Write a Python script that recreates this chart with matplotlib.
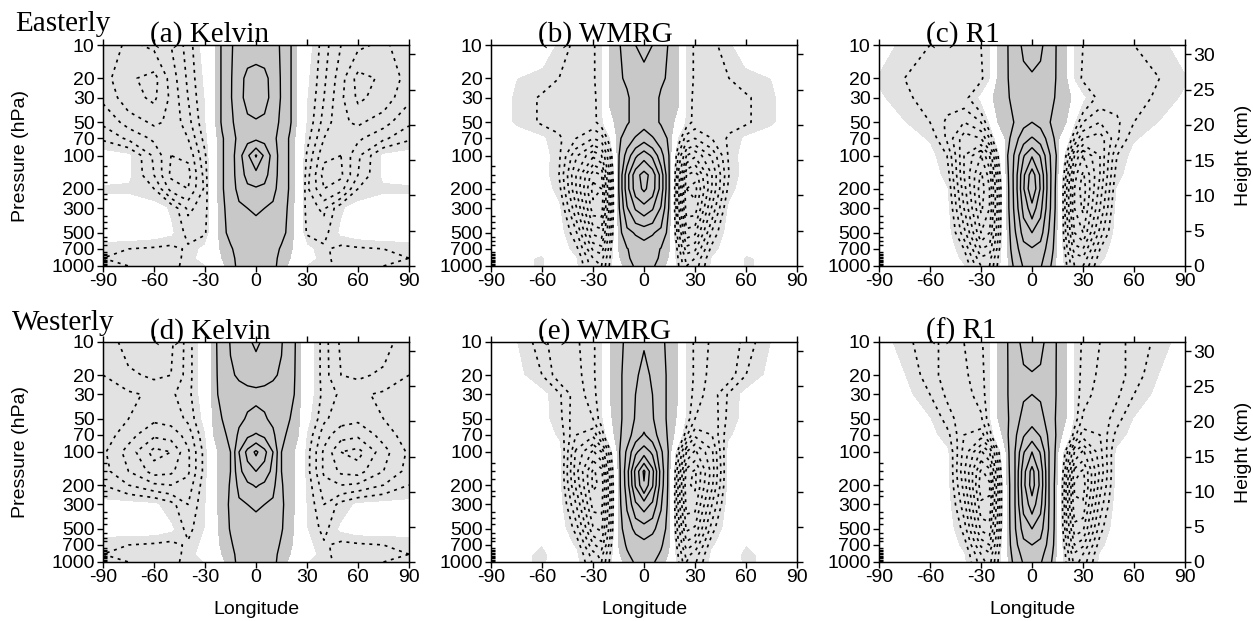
import numpy as np
import matplotlib
matplotlib.use("Agg")
import matplotlib.pyplot as plt
from matplotlib.ticker import FixedLocator, NullLocator, NullFormatter

# ---------------- data ----------------
# latitude grid (0..90, mirrored to the southern half) and pressure levels (hPa)
lat_half = [0, 5, 10, 15, 20, 25, 30, 40, 50, 60, 75, 90]
plev = [10, 20, 30, 50, 70, 100, 150, 200, 300, 500, 700, 850, 1000]

# rows follow plev (top -> bottom), columns follow lat_half
kelvin_easterly = [
    [2.6, 2.5, 2.3, 1.9, 1.1, 0.3, -0.2, -1.3, -2.0, -2.4, -2.6, -2.2],
    [3.4, 3.3, 2.6, 1.9, 1.1, 0.3, -0.4, -1.4, -2.3, -3.2, -2.9, -2.3],
    [3.5, 3.3, 2.7, 1.9, 1.1, 0.3, -0.5, -1.5, -2.4, -3.1, -2.8, -2.1],
    [2.9, 2.8, 2.4, 1.8, 1.1, 0.3, -0.6, -1.7, -2.4, -2.6, -2.2, -1.6],
    [2.8, 2.7, 2.3, 1.5, 0.9, 0.2, -0.8, -2.0, -2.4, -2.1, -1.6, -1.1],
    [5.1, 3.8, 2.6, 1.5, 0.9, 0.2, -1.1, -2.4, -2.5, -1.6, -0.4, -0.2],
    [3.6, 3.3, 2.5, 1.5, 0.9, 0.2, -1.3, -2.7, -2.6, -1.5, -0.4, -0.3],
    [2.9, 2.8, 2.3, 1.5, 0.9, 0.2, -1.4, -2.5, -2.2, -1.0, -0.6, -0.6],
    [2.1, 2.0, 1.8, 1.4, 0.8, 0.1, -1.3, -1.6, -0.6, -0.2, -0.2, -0.2],
    [1.7, 1.6, 1.5, 1.2, 0.8, 0.1, -1.1, -1.2, -0.4, -0.2, -0.1, -0.1],
    [1.5, 1.5, 1.3, 0.9, 0.6, 0.2, -0.3, -0.9, -1.2, -1.1, -1.0, -0.9],
    [1.6, 1.5, 1.2, 0.8, 0.5, 0.2, -0.2, -0.8, -1.3, -1.2, -1.1, -1.0],
    [1.6, 1.5, 1.2, 0.7, 0.4, 0.2, -0.6, -0.9, -1.1, -1.0, -1.0, -0.9],
]

wmrg_easterly = [
    [2.3, 2.0, 1.4, 0.9, 0.6, -0.6, -1.1, -1.2, -0.6, -0.2, -0.1, -0.1],
    [1.6, 1.5, 1.1, 0.9, 0.6, -0.6, -1.1, -1.3, -1.0, -0.7, -0.5, -0.1],
    [1.5, 1.3, 0.9, 0.8, 0.6, -0.6, -1.2, -1.4, -1.3, -1.1, -0.6, -0.1],
    [1.6, 1.3, 0.9, 0.7, 0.3, -0.7, -1.2, -1.4, -1.2, -1.1, -0.6, -0.1],
    [2.6, 2.1, 1.5, 0.8, -0.6, -1.8, -2.0, -1.5, -0.9, -0.4, -0.2, -0.1],
    [4.6, 3.8, 2.4, 0.9, -1.5, -3.0, -3.4, -2.4, -0.9, -0.2, -0.1, -0.1],
    [6.4, 5.6, 3.6, 0.9, -2.0, -4.5, -4.8, -3.0, -1.0, -0.2, -0.1, -0.1],
    [6.2, 5.5, 3.6, 0.9, -2.2, -5.0, -5.2, -3.0, -0.8, -0.1, -0.1, -0.1],
    [4.6, 4.1, 2.9, 0.8, -2.2, -4.8, -4.8, -2.4, -0.4, -0.1, -0.1, -0.1],
    [2.3, 2.1, 1.7, 0.6, -1.8, -3.8, -3.6, -1.4, -0.2, -0.1, -0.1, -0.2],
    [1.6, 1.35, 0.95, 0.5, -1.2, -2.8, -2.6, -0.8, -0.1, -0.3, -0.3, -0.1],
    [1.4, 1.2, 0.9, 0.4, -1.0, -2.2, -2.0, -0.5, 0.0, -0.6, -0.3, 0.0],
    [1.3, 1.1, 0.7, 0.3, -0.9, -2.0, -1.8, -0.4, 0.0, -0.6, -0.3, 0.0],
]

r1_easterly = [
    [2.6, 2.2, 1.5, 0.9, 0.6, -0.6, -1.0, -1.2, -1.1, -1.0, -0.7, -0.2],
    [1.8, 1.7, 1.4, 0.9, 0.6, -0.6, -1.1, -1.3, -1.3, -1.2, -1.0, -0.6],
    [1.6, 1.5, 1.2, 0.9, 0.9, 0.2, -0.4, -1.2, -1.3, -1.2, -0.9, -0.4],
    [2.0, 1.7, 1.05, 0.7, 0.5, -0.5, -1.5, -2.0, -1.6, -1.0, -0.5, -0.2],
    [3.1, 2.6, 1.6, 0.6, 0.0, -1.5, -2.5, -2.8, -1.6, -0.6, -0.2, -0.1],
    [4.9, 3.9, 2.2, 0.8, -1.0, -3.0, -4.0, -3.0, -1.0, -0.3, -0.1, -0.1],
    [6.6, 4.8, 2.4, 0.6, -1.5, -3.8, -4.6, -3.0, -0.7, -0.2, -0.1, -0.1],
    [6.9, 4.9, 2.4, 0.5, -1.8, -4.0, -4.8, -2.8, -0.5, -0.1, -0.1, -0.1],
    [5.6, 4.3, 2.3, 0.5, -1.8, -4.0, -4.6, -2.5, -0.3, -0.1, -0.1, -0.1],
    [4.0, 3.4, 1.9, 0.4, -1.6, -3.5, -4.0, -1.8, -0.2, -0.1, -0.1, -0.1],
    [2.9, 2.6, 1.6, 0.4, -1.3, -2.8, -3.0, -1.0, -0.1, -0.2, -0.4, -0.1],
    [2.4, 2.3, 1.4, 0.3, -1.0, -2.2, -2.4, -0.7, -0.1, -0.4, -0.3, -0.1],
    [2.2, 2.1, 1.2, 0.3, -0.9, -2.0, -2.0, -0.5, 0.0, -0.3, -0.2, 0.0],
]

kelvin_westerly = [
    [3.2, 2.8, 2.3, 2.05, 1.5, 0.7, 0.0, -1.3, -2.1, -2.5, -2.2, -1.7],
    [2.3, 2.2, 2.1, 1.9, 1.4, 0.7, 0.0, -1.3, -2.0, -2.1, -1.9, -1.5],
    [1.8, 1.8, 1.7, 1.6, 1.3, 0.7, -0.1, -1.2, -1.6, -1.6, -1.4, -1.1],
    [2.3, 2.1, 1.8, 1.4, 1.0, 0.6, -0.3, -1.4, -1.8, -1.9, -1.5, -1.1],
    [3.1, 2.8, 2.2, 1.2, 0.8, 0.5, -0.6, -1.8, -2.3, -2.4, -1.8, -1.2],
    [5.2, 4.3, 3.0, 1.0, 0.7, 0.3, -0.8, -2.1, -3.0, -3.2, -2.2, -1.4],
    [4.0, 3.6, 2.7, 1.0, 0.7, 0.3, -0.8, -2.1, -2.6, -2.7, -2.0, -1.3],
    [3.1, 2.8, 2.3, 1.05, 0.7, 0.3, -0.7, -1.8, -2.0, -1.9, -1.5, -1.0],
    [2.1, 2.0, 1.8, 1.1, 0.7, 0.3, -0.6, -1.5, -0.8, -0.4, -0.3, -0.3],
    [1.7, 1.6, 1.5, 1.05, 0.65, 0.3, -0.5, -1.2, -0.4, -0.2, -0.2, -0.2],
    [1.5, 1.5, 1.3, 0.9, 0.6, 0.2, -0.3, -0.9, -1.2, -1.1, -1.0, -0.9],
    [1.6, 1.5, 1.2, 0.8, 0.5, 0.2, -0.2, -0.8, -1.3, -1.2, -1.1, -1.0],
    [1.6, 1.5, 1.2, 0.7, 0.4, 0.2, -0.5, -0.9, -1.1, -1.0, -1.0, -0.9],
]

wmrg_westerly = [
    [1.9, 1.6, 1.3, 0.6, 0.5, -0.6, -1.1, -1.6, -1.9, -1.3, -0.5, -0.1],
    [2.4, 1.8, 1.3, 0.8, 0.5, -0.6, -1.1, -1.7, -1.8, -1.0, -0.3, -0.1],
    [2.5, 2.0, 1.3, 0.8, 0.5, -0.6, -1.2, -1.8, -0.9, -0.3, -0.2, -0.1],
    [2.6, 2.1, 1.3, 0.8, 0.4, -0.7, -1.5, -1.9, -0.8, -0.3, -0.1, -0.1],
    [3.1, 2.5, 1.5, 0.8, 0.2, -1.4, -2.4, -2.0, -0.6, -0.2, -0.1, -0.1],
    [4.6, 3.8, 2.2, 0.8, -1.2, -3.0, -3.6, -2.6, -0.3, -0.2, -0.1, -0.1],
    [7.2, 5.3, 2.6, 0.6, -1.8, -4.2, -4.6, -2.8, -0.3, -0.1, -0.1, -0.1],
    [6.9, 5.1, 2.5, 0.6, -2.0, -4.4, -4.6, -2.6, -0.3, -0.1, -0.1, -0.1],
    [4.5, 3.8, 2.1, 0.6, -2.0, -4.2, -4.2, -2.0, -0.2, -0.1, -0.1, -0.1],
    [2.5, 2.2, 1.6, 0.5, -1.7, -3.6, -3.4, -1.2, -0.1, -0.1, -0.1, -0.1],
    [1.7, 1.5, 1.1, 0.5, -1.3, -2.8, -2.4, -0.6, -0.1, -0.5, -0.2, -0.1],
    [1.4, 1.3, 0.9, 0.4, -1.0, -2.2, -1.8, -0.4, -0.1, -0.7, -0.2, 0.0],
    [1.3, 1.1, 0.7, 0.3, -0.9, -2.0, -1.6, -0.3, 0.0, -0.7, -0.2, 0.0],
]

r1_westerly = [
    [2.6, 2.3, 1.6, 0.9, 0.6, -0.6, -1.1, -1.5, -1.6, -1.4, -0.8, -0.2],
    [1.9, 1.8, 1.5, 0.9, 0.6, -0.6, -1.2, -1.6, -1.7, -1.3, -0.5, -0.1],
    [2.0, 1.9, 1.5, 0.9, 0.6, -0.6, -1.3, -1.7, -1.6, -1.0, -0.3, -0.1],
    [2.6, 2.3, 1.6, 0.8, 0.5, -0.7, -1.6, -1.9, -1.2, -0.5, -0.1, -0.1],
    [3.5, 2.9, 1.8, 0.8, 0.2, -1.3, -2.3, -2.0, -0.8, -0.3, -0.1, -0.1],
    [5.0, 3.9, 2.0, 0.6, -1.2, -3.0, -3.6, -2.2, -0.4, -0.1, -0.1, -0.1],
    [6.4, 4.6, 2.0, 0.5, -1.8, -4.2, -4.6, -2.4, -0.3, -0.1, -0.1, -0.1],
    [6.5, 4.7, 2.0, 0.4, -2.0, -4.6, -4.8, -2.2, -0.3, -0.1, -0.1, -0.1],
    [5.5, 4.3, 2.0, 0.4, -2.0, -4.4, -4.4, -1.8, -0.2, -0.1, -0.1, -0.2],
    [4.0, 3.4, 1.9, 0.4, -1.8, -3.8, -3.6, -1.2, -0.1, -0.1, -0.1, -0.2],
    [3.0, 2.7, 1.7, 0.4, -1.4, -3.0, -2.6, -0.7, -0.1, -0.1, -0.1, -0.1],
    [2.5, 2.3, 1.5, 0.3, -1.1, -2.4, -2.0, -0.5, 0.0, -0.3, -0.3, 0.0],
    [2.3, 2.1, 1.3, 0.3, -1.0, -2.2, -1.8, -0.4, 0.0, -0.5, -0.3, 0.0],
]

panel_titles = ["(a) Kelvin", "(b) WMRG", "(c) R1", "(d) Kelvin", "(e) WMRG", "(f) R1"]
row_titles = ["Easterly", "Westerly"]
fields = [kelvin_easterly, wmrg_easterly, r1_easterly,
          kelvin_westerly, wmrg_westerly, r1_westerly]

pressure_ticks = [1000, 700, 500, 300, 200, 100, 70, 50, 30, 20, 10]
model_levels = [1000, 975, 950, 925, 900, 875, 850, 825, 800, 775, 750, 700,
                650, 600, 550, 500, 450, 400, 350, 300, 250, 225, 200, 175,
                150, 125, 100, 70, 50, 30, 20, 10]
lon_ticks = [-90, -60, -30, 0, 30, 60, 90]
height_ticks = [0, 5, 10, 15, 20, 25, 30]
scale_height_km = 6.8

pos_levels = [1, 2, 3, 4, 5, 6, 7, 8, 9]
neg_levels = [-6.0, -5.5, -5.0, -4.5, -4.0, -3.5, -3.0, -2.5, -2.0, -1.5, -1.0]
shade_levels = [-50, -0.5, 0.5, 50]

# ---------------- style ----------------
DARK = "#c8c8c8"
LIGHT = "#e2e2e2"
SANS = "Liberation Sans"
SERIF = "Liberation Serif"
TICK_FS = 14
LABEL_FS = 14
TITLE_FS = 21

fig = plt.figure(figsize=(12.53, 6.21), dpi=100)
W, H = 1253.0, 621.0
col_left = [103, 491, 879]
row_top = [45, 342]
row_bot = [266, 562]
ax_w = 306

lat_full = np.array([-v for v in lat_half[:0:-1]] + lat_half, dtype=float)
p_arr = np.array(plev, dtype=float)
ztop = scale_height_km * np.log(1000.0 / 10.0)

for i in range(6):
    r, c = divmod(i, 3)
    half = np.array(fields[i], dtype=float)
    Z = np.hstack([half[:, :0:-1], half])
    left = col_left[c] / W
    bottom = 1 - row_bot[r] / H
    height = (row_bot[r] - row_top[r]) / H
    ax = fig.add_axes([left, bottom, ax_w / W, height])
    ax.set_yscale("log")
    ax.contourf(lat_full, p_arr, Z, levels=shade_levels,
                colors=[LIGHT, "white", DARK])
    ax.contour(lat_full, p_arr, Z, levels=pos_levels, colors="black",
               linewidths=1.0)
    cn = ax.contour(lat_full, p_arr, Z, levels=neg_levels, colors="black",
                    linewidths=1.2)
    cn.set_linestyle((0, (1.8, 2.8)))
    ax.set_xlim(-90, 90)
    ax.set_ylim(1000, 10)
    ax.set_xticks(lon_ticks)
    ax.set_xticklabels([str(v) for v in lon_ticks], fontsize=TICK_FS,
                       fontfamily=SANS)
    ax.yaxis.set_major_locator(FixedLocator(pressure_ticks))
    ax.set_yticklabels([str(v) for v in pressure_ticks], fontsize=TICK_FS,
                       fontfamily=SANS)
    ax.yaxis.set_minor_locator(FixedLocator(model_levels))
    ax.yaxis.set_minor_formatter(NullFormatter())
    ax.tick_params(axis="x", which="major", direction="out", length=4,
                   width=1, top=True, bottom=True, pad=1)
    ax.tick_params(axis="y", which="major", direction="out", length=4,
                   width=1, left=True, right=False, pad=2)
    ax.tick_params(axis="y", which="minor", direction="in", length=3,
                   width=1.0, left=True, right=False, labelleft=False)
    for sp in ax.spines.values():
        sp.set_linewidth(1.0)

    ax2 = ax.twinx()
    ax2.set_ylim(0, ztop)
    ax2.set_yticks(height_ticks)
    ax2.yaxis.set_minor_locator(NullLocator())
    if c == 2:
        ax2.set_yticklabels([str(v) for v in height_ticks], fontsize=TICK_FS,
                            fontfamily=SANS)
    else:
        ax2.set_yticklabels([])
    ax2.tick_params(axis="y", direction="out", length=4, width=1, pad=2)

    ax.text(0.152, 1.016, panel_titles[i], transform=ax.transAxes,
            fontsize=TITLE_FS, fontfamily=SERIF, ha="left", va="baseline")

    yc = 1 - (row_top[r] + row_bot[r]) / 2 / H
    if c == 0:
        fig.text(21 / W, yc, "Pressure (hPa)", rotation=90, ha="center",
                 va="center", fontsize=LABEL_FS, fontfamily=SANS)
    if c == 2:
        fig.text(1243 / W, yc, "Height (km)", rotation=90, ha="center",
                 va="center", fontsize=LABEL_FS, fontfamily=SANS)
    if r == 1:
        fig.text((col_left[c] + ax_w / 2) / W, 1 - 610 / H, "Longitude",
                 ha="center", va="center", fontsize=LABEL_FS, fontfamily=SANS)

fig.text(15 / W, 1 - 31 / H, row_titles[0], fontsize=TITLE_FS,
         fontfamily=SERIF, ha="left", va="baseline")
fig.text(12 / W, 1 - 330 / H, row_titles[1], fontsize=TITLE_FS,
         fontfamily=SERIF, ha="left", va="baseline")

fig.savefig("out.png", dpi=100)
